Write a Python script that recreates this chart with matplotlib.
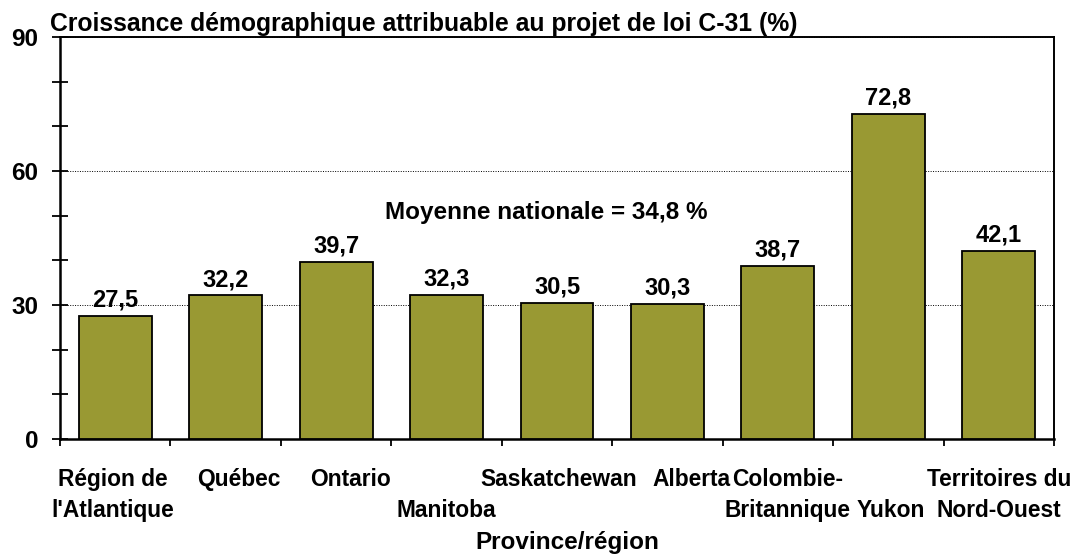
import matplotlib
matplotlib.use("Agg")
import matplotlib.pyplot as plt
from matplotlib.ticker import MultipleLocator, FixedLocator
from matplotlib.transforms import ScaledTranslation

categories = ["Région de\nl'Atlantique", "Québec", "Ontario", "Manitoba",
              "Saskatchewan", "Alberta", "Colombie-\nBritannique", "Yukon",
              "Territoires du\nNord-Ouest"]
values = [27.5, 32.2, 39.7, 32.3, 30.5, 30.3, 38.7, 72.8, 42.1]
value_labels = ["27,5", "32,2", "39,7", "32,3", "30,5", "30,3", "38,7", "72,8", "42,1"]
yticks = [0, 30, 60, 90]
title = "Croissance démographique attribuable au projet de loi C-31 (%)"
xlabel = "Province/région"
note = "Moyenne nationale = 34,8 %"

# nudges (pixels) of category labels, as placed in the original (staggered rows)
label_shift_px = [-2, 13, 14, 0, 2, 24, 10, 2, 0]
label_drop_px = [0, 0, 0, 31, 0, 0, 0, 31, 0]

plt.rcParams['font.family'] = ['Liberation Sans', 'DejaVu Sans']
plt.rcParams['font.weight'] = 'bold'

fig = plt.figure(figsize=(10.74, 5.56), dpi=100)
ax = fig.add_axes([60/1074, 1-439/556, (1054-60)/1074, (439-37)/556])

x = list(range(len(values)))
ax.bar(x, values, width=0.66, color='#999933', edgecolor='black', linewidth=1.3, zorder=3)

for xi, v, lab in zip(x, values, value_labels):
    ax.annotate(lab, (xi, v), xytext=(0, 3), textcoords='offset points',
                ha='center', va='bottom', fontsize=17, fontweight='bold')

ax.set_xlim(-0.5, len(values) - 0.5)
ax.set_ylim(0, 90)

ax.yaxis.set_major_locator(FixedLocator(yticks))
ax.yaxis.set_minor_locator(MultipleLocator(10))
ax.tick_params(axis='y', which='both', direction='inout', length=11, width=1.3)
ax.tick_params(axis='y', which='major', labelsize=17.5, pad=10)
for t in ax.get_yticklabels():
    t.set_fontweight('bold')

ax.set_xticks(x)
ax.set_xticklabels(categories, fontsize=16.4, fontweight='bold', linespacing=1.45)
ax.xaxis.set_minor_locator(FixedLocator([i - 0.5 for i in range(len(values) + 1)]))
ax.tick_params(axis='x', which='major', length=0, pad=21)
ax.tick_params(axis='x', which='minor', direction='out', length=5, width=1.3)

for lab, dx, dy in zip(ax.get_xticklabels(), label_shift_px, label_drop_px):
    lab.set_transform(lab.get_transform() + ScaledTranslation(dx / 100, -dy / 100, fig.dpi_scale_trans))

# axis title placed in figure pixels so it sits at the very bottom as in the original
fig.text(567 / 1074, 1 - 549 / 556, xlabel, ha='center', va='baseline',
         fontsize=17.5, fontweight='bold')

ax.grid(axis='y', which='major', linestyle=(0, (1, 1.5)), color='black', linewidth=0.7, zorder=0)

for side in ['left', 'bottom']:
    ax.spines[side].set_linewidth(1.8)
for side in ['top', 'right']:
    ax.spines[side].set_linewidth(1.4)

ax.text(3.9, 50.8, note, ha='center', va='center', fontsize=17.5, fontweight='bold')

fig.text(50/1074, 1 - 31/556, title, ha='left', va='baseline', fontsize=17.8, fontweight='bold')

fig.savefig("out.png", dpi=100)
